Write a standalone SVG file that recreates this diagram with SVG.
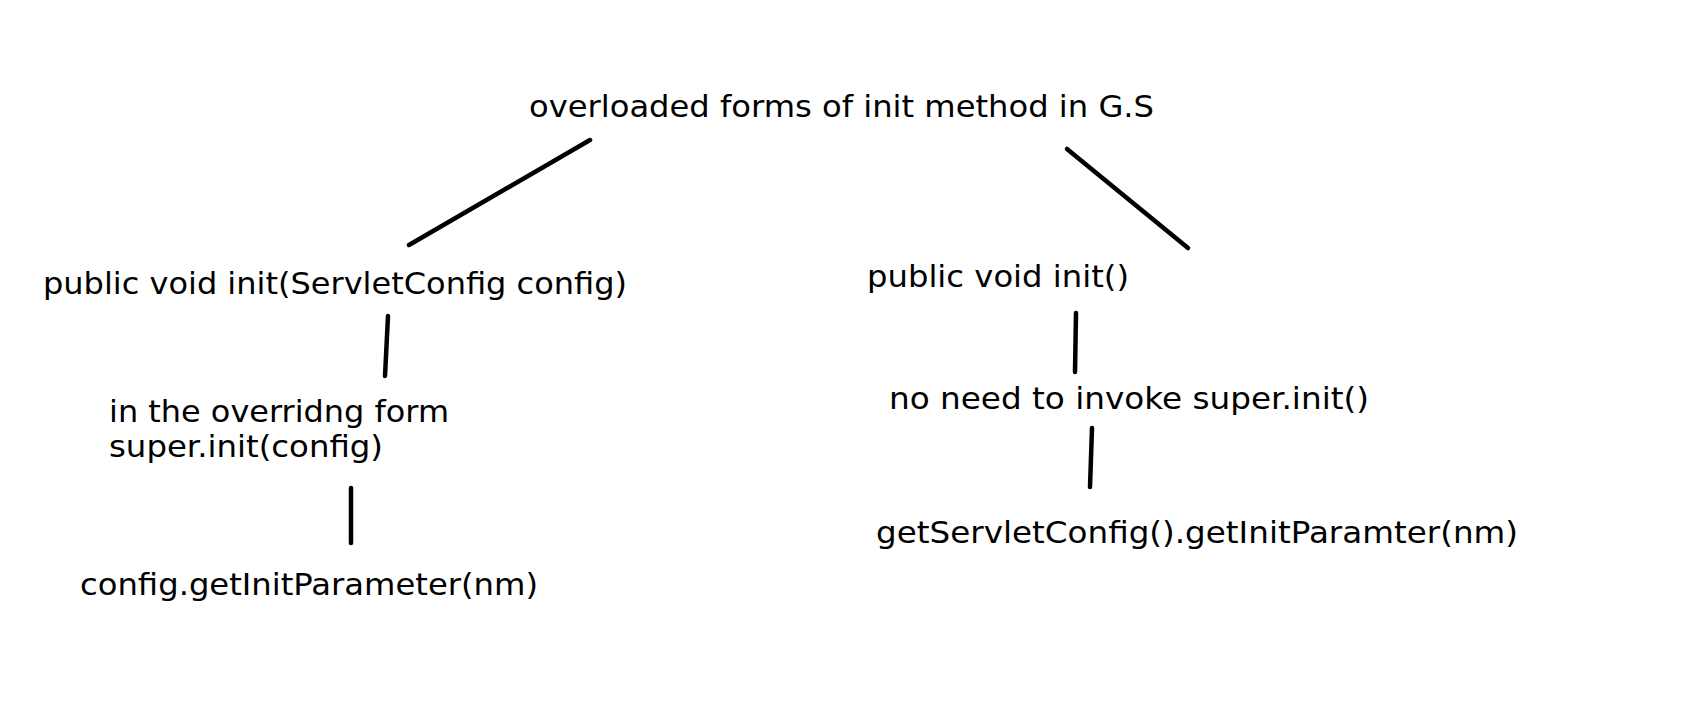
<svg xmlns="http://www.w3.org/2000/svg" width="1688" height="708" viewBox="0 0 1688 708">
<style>
text{font-family:"DejaVu Sans","Noto Sans",sans-serif;font-size:31px;fill:#000}
.c{stroke:#000;stroke-width:4.5;stroke-linecap:round;fill:none}
</style>
<rect width="1688" height="708" fill="#fff"/>
<g id="root"><text x="529" y="117" textLength="625" lengthAdjust="spacingAndGlyphs">overloaded forms of init method in G.S</text></g>
<g id="left1"><text x="43" y="294" textLength="584" lengthAdjust="spacingAndGlyphs">public void init(ServletConfig config)</text></g>
<g id="left2"><text x="109" y="422" textLength="340" lengthAdjust="spacingAndGlyphs">in the overridng form</text><text x="109" y="457" textLength="274" lengthAdjust="spacingAndGlyphs">super.init(config)</text></g>
<g id="left3"><text x="80" y="595" textLength="458" lengthAdjust="spacingAndGlyphs">config.getInitParameter(nm)</text></g>
<g id="right1"><text x="867" y="287" textLength="262" lengthAdjust="spacingAndGlyphs">public void init()</text></g>
<g id="right2"><text x="889" y="409" textLength="480" lengthAdjust="spacingAndGlyphs">no need to invoke super.init()</text></g>
<g id="right3"><text x="876" y="543" textLength="642" lengthAdjust="spacingAndGlyphs">getServletConfig().getInitParamter(nm)</text></g>
<g id="connectors">
<path class="c" d="M590 140 L409 245"/>
<path class="c" d="M1067 149 L1188 248"/>
<path class="c" d="M388 316 L385 376"/>
<path class="c" d="M351 488 L351 543"/>
<path class="c" d="M1076 313 L1075 372"/>
<path class="c" d="M1092 428 L1090 487"/>
</g>
</svg>
